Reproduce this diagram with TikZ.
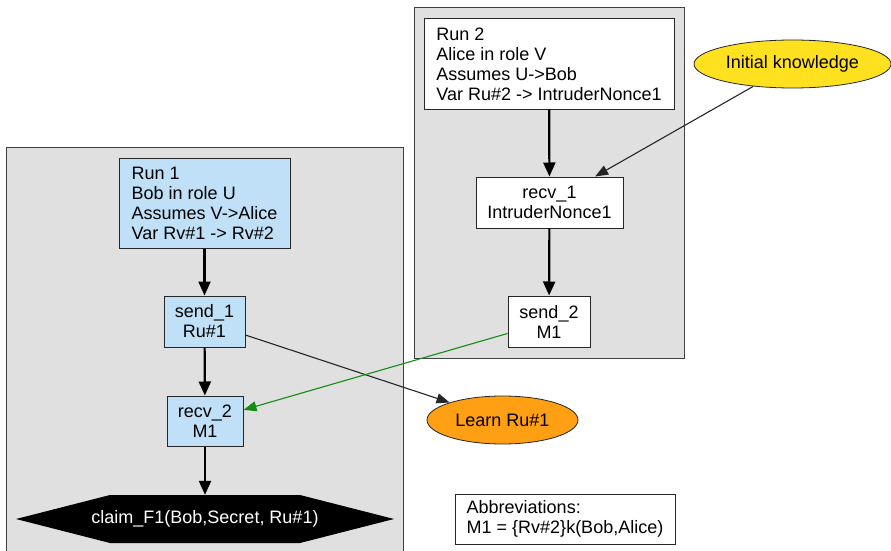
\documentclass[tikz,border=0pt]{standalone}
\usepackage{fontspec}
\setmainfont{Liberation Sans}
\usetikzlibrary{arrows.meta,shapes.geometric}
\definecolor{clustergray}{RGB}{224,224,224}
\definecolor{runblue}{RGB}{192,224,247}
\definecolor{knowyellow}{RGB}{255,225,32}
\definecolor{learnorange}{RGB}{255,160,20}
\definecolor{sendgreen}{RGB}{20,140,20}
\tikzset{
  cluster/.style={draw=black!75, fill=clustergray, line width=1pt},
  event/.style={draw=black!85, line width=1pt, inner sep=0pt, align=center},
  runev/.style={event, fill=runblue},
  intrev/.style={event, fill=white},
  blob/.style={ellipse, draw=black!85, line width=0.8pt, inner sep=0pt},
  flow/.style={line width=2.2pt, -{Triangle[length=14pt,width=12pt]}},
  info/.style={line width=1.1pt, -{Triangle[length=13pt,width=10pt]}}
}
\begin{document}
\begin{tikzpicture}[x=1pt,y=-1pt,font=\fontsize{18}{20}\selectfont]
\useasboundingbox (0,0) rectangle (891,551);
% the two runs
\draw[cluster] (6,147) rectangle (403,560);
\draw[cluster] (414,8) rectangle (684,358);
% run 1
\node[runev, align=left, minimum width=171pt, minimum height=90pt] (run1) at (204.5,203)
	{Run 1\\Bob in role U\\Assumes V->Alice\\Var Rv\#1 -> Rv\#2};
\node[runev, minimum width=81pt, minimum height=51pt] (send1) at (204.5,321.5) {send\_1\\Ru\#1};
\node[runev, minimum width=76pt, minimum height=50pt] (recv2) at (205,421) {recv\_2\\M1};
\fill (16,519) -- (110,495) -- (300,495) -- (394,519) -- (300,543) -- (110,543) -- cycle;
\node[inner sep=0pt, minimum width=378pt, minimum height=48pt, text=white] (claim) at (205,519)
	{claim\_F1(Bob,Secret, Ru\#1)};
% run 2
\node[intrev, align=left, minimum width=250pt, minimum height=90pt] (run2) at (549,64)
	{Run 2\\Alice in role V\\Assumes U->Bob\\Var Ru\#2 -> IntruderNonce1};
\node[intrev, minimum width=147pt, minimum height=51pt] (recv1) at (549.5,202.5) {recv\_1\\IntruderNonce1};
\node[intrev, minimum width=82pt, minimum height=51pt] (send2) at (549,321.5) {send\_2\\M1};
% intruder
\node[blob, fill=knowyellow, minimum width=197pt, minimum height=48pt] (init) at (792.5,64) {Initial knowledge};
\node[blob, fill=learnorange, minimum width=151pt, minimum height=48pt] (learn) at (502.5,420) {Learn Ru\#1};
\node[event, align=left, fill=white, minimum width=220pt, minimum height=50pt] (abbrev) at (565,519)
	{Abbreviations:\\M1 = \{Rv\#2\}k(Bob,Alice)};
% connectors
\draw[flow] (run1) -- (send1);
\draw[flow] (send1) -- (recv2);
\draw[flow] (recv2) -- (claim.north);
\draw[flow] (run2) -- (recv1);
\draw[flow] (recv1) -- (send2);
\draw[info, black!85] (init) -- (recv1);
\draw[info, black!85] (send1) -- (learn);
\draw[info, sendgreen] (send2) -- (recv2);
\end{tikzpicture}
\end{document}
